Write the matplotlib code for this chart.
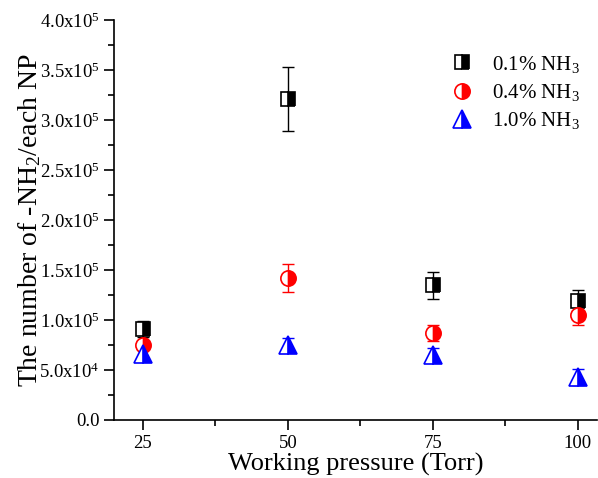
import math
import matplotlib
matplotlib.use("Agg")
import matplotlib.pyplot as plt
from matplotlib.ticker import FixedLocator, FuncFormatter, MultipleLocator

plt.rcParams['font.family'] = ['Liberation Serif', 'DejaVu Serif']
plt.rcParams['mathtext.fontset'] = 'custom'
plt.rcParams['mathtext.rm'] = 'Liberation Serif'
plt.rcParams['mathtext.it'] = 'Liberation Serif:italic'

pressure = [25, 50, 75, 100]
nh3_01 = [0.91e5, 3.21e5, 1.35e5, 1.19e5]
nh3_01_err = [0.08e5, 0.32e5, 0.135e5, 0.115e5]
nh3_04 = [0.75e5, 1.42e5, 0.87e5, 1.05e5]
nh3_04_err = [0.03e5, 0.14e5, 0.08e5, 0.10e5]
nh3_10 = [0.66e5, 0.75e5, 0.65e5, 0.43e5]
nh3_10_err = [0.06e5, 0.07e5, 0.07e5, 0.08e5]
labels = [r'0.1% NH$_3$', r'0.4% NH$_3$', r'1.0% NH$_3$']
y_ticks = [0, 0.5e5, 1.0e5, 1.5e5, 2.0e5, 2.5e5, 3.0e5, 3.5e5, 4.0e5]

fig = plt.figure(figsize=(5.98, 4.78), dpi=100)
ax = fig.add_axes([114/598, 58/478, (597-114)/598, 400/478])

series = [
    (nh3_01, nh3_01_err, 's', 'black', labels[0], 10),
    (nh3_04, nh3_04_err, 'o', 'red', labels[1], 11),
    (nh3_10, nh3_10_err, '^', 'blue', labels[2], 13),
]
handles = []
for y, e, m, c, lab, ms in series:
    ax.errorbar(pressure, y, yerr=e, fmt='none', ecolor=c, elinewidth=1.0,
                capsize=4, capthick=1.0, zorder=2)
    h, = ax.plot(pressure, y, linestyle='none', marker=m, markersize=ms,
                 markerfacecolor=c, markerfacecoloralt='white', fillstyle='right',
                 markeredgecolor=c, markeredgewidth=1.2, label=lab, zorder=3)
    handles.append(h)

ax.set_xlim(20, 103.3)
ax.set_ylim(0, 4.0e5)
ax.xaxis.set_major_locator(FixedLocator(pressure))
ax.xaxis.set_minor_locator(FixedLocator([37.5, 62.5, 87.5]))
ax.yaxis.set_major_locator(FixedLocator(y_ticks))
ax.yaxis.set_minor_locator(MultipleLocator(0.25e5))

def yfmt(v, pos):
    if v == 0:
        return '0.0'
    exp = int(math.floor(math.log10(v)))
    mant = v / 10**exp
    return r'%.1fx10$^{%d}$' % (mant, exp)

ax.yaxis.set_major_formatter(FuncFormatter(yfmt))

for s in ['top', 'right']:
    ax.spines[s].set_visible(False)
for s in ['left', 'bottom']:
    ax.spines[s].set_linewidth(1.2)

ax.tick_params(which='major', direction='out', length=7, width=1.2, labelsize=13.5)
ax.tick_params(which='minor', direction='out', length=4, width=1.2)

ax.set_xlabel('Working pressure (Torr)', fontsize=19, labelpad=1)
ax.set_ylabel(r'The number of -NH$_2$/each NP', fontsize=20, labelpad=-3)

leg = ax.legend(handles=handles, loc='upper left', bbox_to_anchor=(0.738, 0.905),
                bbox_transform=fig.transFigure, borderaxespad=0,
                frameon=False, fontsize=15, handlelength=1.2, handletextpad=0.84,
                labelspacing=0.35)

fig.savefig('out.png', dpi=100)
